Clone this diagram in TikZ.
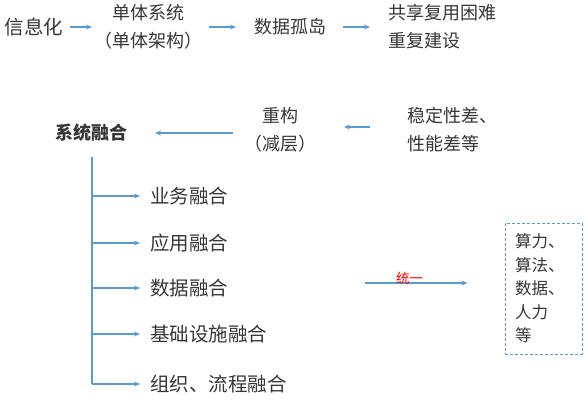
\documentclass[tikz,border=0pt]{standalone}
\usepackage{fontspec}
\newfontfamily\cjk{Noto Sans CJK SC}
\usetikzlibrary{arrows.meta}
\definecolor{lineblue}{HTML}{5B9BD5}
\definecolor{txt}{HTML}{363636}
\begin{document}
\begin{tikzpicture}[x=1pt,y=-1pt,
  lbl/.style={inner sep=0pt, text=txt, font=\cjk\fontsize{18}{28}\selectfont},
  item/.style={inner sep=0pt, text=txt, anchor=west, font=\cjk\fontsize{19.5}{26}\selectfont},
  arr/.style={draw=lineblue, line width=1.2pt, -{Stealth[length=6pt,width=5pt]}},
  trunk/.style={draw=lineblue, line width=1.2pt}]
\useasboundingbox (0,0) rectangle (588,414);
% top row
\node[lbl, font=\cjk\fontsize{19.5}{28}\selectfont] (n1) at (34,27) {信息化};
\node[lbl, align=center] (n2) at (148,27) {单体系统\\（单体架构）};
\node[lbl] (n3) at (290,27) {数据孤岛};
\node[lbl, align=left, anchor=west] (n4) at (388,27) {共享复用困难\\重复建设};
\coordinate (a1s) at (70,27);  \coordinate (a1e) at (92,27);
\coordinate (a2s) at (209,27); \coordinate (a2e) at (236,27);
\coordinate (a3s) at (343,27); \coordinate (a3e) at (370,27);
\draw[arr] (a1s) -- (a1e);
\draw[arr] (a2s) -- (a2e);
\draw[arr] (a3s) -- (a3e);
% second row
\node[lbl, align=left, anchor=west] (r1) at (407,130) {稳定性差、\\性能差等};
\node[lbl, align=center] (r2) at (280,130) {重构\\（减层）};
\node[lbl, font=\cjk\bfseries\fontsize{18}{28}\selectfont] (r3) at (91,133) {系统融合};
\coordinate (c1s) at (370,127); \coordinate (c1e) at (344,127);
\coordinate (c2s) at (233,133); \coordinate (c2e) at (155,133);
\draw[arr] (c1s) -- (c1e);
\draw[arr] (c2s) -- (c2e);
% list
\node[item] (b1) at (150,196) {业务融合};
\node[item] (b2) at (150,243) {应用融合};
\node[item] (b3) at (150,288) {数据融合};
\node[item] (b4) at (150,334) {基础设施融合};
\node[item] (b5) at (150,384) {组织、流程融合};
\coordinate (top) at (92,157);
\draw[trunk] (top) -- (top |- b5.west);
\foreach \b in {b1,b2,b3,b4,b5}{
  \draw[arr, shorten >=10pt] (top |- \b.west) -- (\b.west);
}
% resources box
\node[draw=lineblue, line width=1pt, dash pattern=on 3pt off 2pt,
  minimum height=131pt, text width=57pt, inner xsep=10pt, align=left,
  text=txt, font=\cjk\fontsize{16.5}{23.5}\selectfont] (box) at (543.5,288.5)
  {算力、\\算法、\\数据、\\人力\\等};
\coordinate (u1) at (365,283);
\draw[arr, shorten >=37pt] (u1) -- (u1 -| box.west)
  node[pos=0.32, yshift=5pt, text=red, inner sep=0pt, font=\cjk\fontsize{13.5}{13.5}\selectfont] (uni) {统一};
\end{tikzpicture}
\end{document}
